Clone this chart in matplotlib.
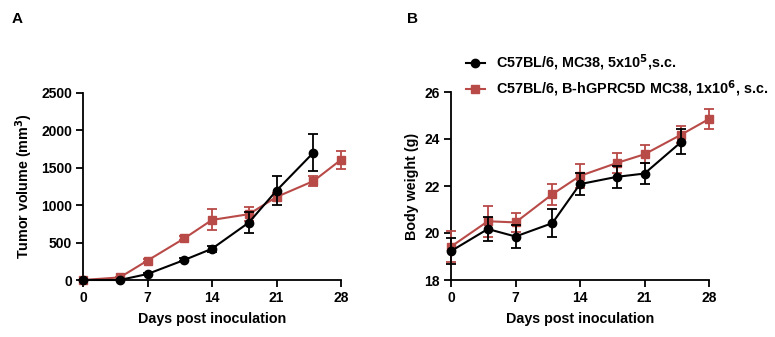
import matplotlib
matplotlib.use("Agg")
import matplotlib.pyplot as plt
from matplotlib.lines import Line2D

plt.rcParams['font.family'] = ['Liberation Sans', 'DejaVu Sans']
plt.rcParams['font.weight'] = 'bold'

# Tumor volume (mm^3)
days_black = [0, 4, 7, 11, 14, 18, 21, 25]
vol_black = [0, 0, 80, 268, 418, 768, 1195, 1702]
vol_black_err = [0, 0, 10, 20, 38, 140, 195, 245]

days_red = [0, 4, 7, 11, 14, 18, 21, 25, 28]
vol_red = [0, 35, 260, 557, 803, 880, 1110, 1322, 1607]
vol_red_err = [0, 10, 15, 25, 140, 90, 55, 70, 118]

# Body weight (g)
bw_black = [19.23, 20.17, 19.85, 20.42, 22.08, 22.39, 22.53, 23.88]
bw_black_err = [0.55, 0.5, 0.5, 0.6, 0.46, 0.47, 0.45, 0.53]
bw_red = [19.42, 20.50, 20.45, 21.65, 22.43, 22.98, 23.35, 24.19, 24.85]
bw_red_err = [0.65, 0.65, 0.42, 0.45, 0.5, 0.42, 0.38, 0.35, 0.41]

labels = ["C57BL/6, MC38, 5x10$^{\\mathbf{5}}$,s.c.",
          "C57BL/6, B-hGPRC5D MC38, 1x10$^{\\mathbf{6}}$, s.c."]
xticks = [0, 7, 14, 21, 28]

red = '#B84A48'
W, H = 775, 337
fig = plt.figure(figsize=(W / 100, H / 100), dpi=100)

ax1 = fig.add_axes([83 / W, 1 - 280 / H, (341 - 83) / W, (280 - 93) / H])
ax2 = fig.add_axes([451 / W, 1 - 280 / H, (709 - 451) / W, (280 - 92) / H])


def style(ax):
    for s in ['top', 'right']:
        ax.spines[s].set_visible(False)
    for s in ['left', 'bottom']:
        ax.spines[s].set_linewidth(1.3)
    ax.tick_params(width=1.3, length=5, labelsize=10, direction='out', pad=3)
    ax.set_xticks(xticks)
    ax.set_xlim(0, 28)
    ax.set_xlabel("Days post inoculation", fontsize=10.3, fontweight='bold', labelpad=5)
    for t in ax.get_xticklabels() + ax.get_yticklabels():
        t.set_fontweight('bold')


ekw = dict(linewidth=1.5, capsize=3.3, capthick=1.3, elinewidth=1.3, clip_on=False)

ax1.errorbar(days_red, vol_red, yerr=vol_red_err, color=red, marker='s',
             markersize=6, zorder=3, **ekw)
ax1.errorbar(days_black, vol_black, yerr=vol_black_err, color='black', marker='o',
             markersize=6, zorder=4, **ekw)
ax1.set_ylim(0, 2500)
ax1.set_yticks([0, 500, 1000, 1500, 2000, 2500])
ax1.set_ylabel("Tumor volume (mm$^{\\mathbf{3}}$)", fontsize=10.3, fontweight='bold')
style(ax1)

ax2.errorbar(days_black, bw_black, yerr=bw_black_err, color='black', marker='o',
             markersize=6, zorder=4, **ekw)
ax2.errorbar(days_red, bw_red, yerr=bw_red_err, color=red, marker='s',
             markersize=6, zorder=3, **ekw)
ax2.set_ylim(18, 26)
ax2.set_yticks([18, 20, 22, 24, 26])
ax2.set_ylabel("Body weight (g)", fontsize=10.3, fontweight='bold')
style(ax2)

handles = [Line2D([], [], color='black', marker='o', markersize=6, linewidth=1.5),
           Line2D([], [], color=red, marker='s', markersize=6, linewidth=1.5)]
leg = fig.legend(handles, labels, loc='center left',
                 bbox_to_anchor=(466 / W, 1 - 76 / H),
                 frameon=False, fontsize=10.4, handlelength=1.3, handletextpad=0.75,
                 labelspacing=0.35, borderaxespad=0, borderpad=0)
for t in leg.get_texts():
    t.set_fontweight('bold')

fig.text(12 / W, 1 - 19 / H, "A", fontsize=11, fontweight='bold', va='center')
fig.text(407 / W, 1 - 19 / H, "B", fontsize=11, fontweight='bold', va='center')

fig.savefig("out.png", dpi=100)
